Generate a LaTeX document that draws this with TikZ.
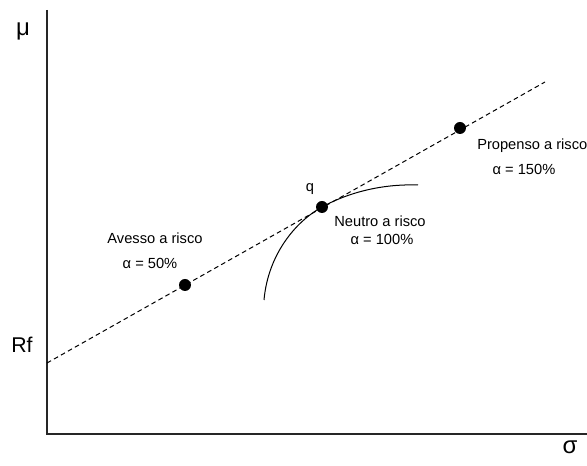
\documentclass[tikz,border=0pt]{standalone}
\usepackage{fontspec}
\setmainfont{Liberation Sans}
\begin{document}
\begin{tikzpicture}[x=0.75pt,y=-0.75pt,
  lbl/.style={inner sep=0pt,font=\fontsize{11}{13}\selectfont},
  axlbl/.style={inner sep=0pt,font=\fontsize{18}{20}\selectfont},
  dot/.style={circle,fill=black,inner sep=0pt,minimum size=9pt}]
\useasboundingbox (0,0) rectangle (587,466);
% axes
\coordinate (top) at (47,10);
\coordinate (orig) at (47,434);
\coordinate (right) at (587,434);
\draw[line width=0.9pt,black!85] (top) -- (orig) -- (right);
% capital market line
\coordinate (rf) at (47,363);
\coordinate (cmlend) at (545,82);
\draw[line width=0.75pt,dash pattern=on 3.5pt off 2.5pt] (rf) -- (cmlend);
% indifference curve
\coordinate (cs) at (264,300);
\coordinate (ce) at (418,185);
\node[dot] (q) at (322,207) {};
\draw[line width=0.75pt] (cs) .. controls (268,255) and (295,222) .. (q.center)
  .. controls (355,189) and (390,184) .. (ce);
\node[dot] (p50) at (185,285) {};
\node[dot] (p150) at (460,128) {};
% labels
\node[axlbl] (mu) at (23,31) {μ};
\node[axlbl,font=\fontsize{16}{18}\selectfont] (rfl) at (22,345) {Rf};
\node[axlbl] (sigma) at (570,447) {σ};
\node[lbl] (ql) at (310,189) {q};
\node[lbl] (av) at (155,238) {Avesso a risco};
\node[lbl] (av2) at (150,263) {α = 50\%};
\node[lbl] (ne) at (380,221) {Neutro a risco};
\node[lbl] (ne2) at (382,239) {α = 100\%};
\node[lbl,anchor=west] (pr) at (477,146) {Propenso a risco};
\node[lbl] (pr2) at (524,169) {α = 150\%};
\end{tikzpicture}
\end{document}
